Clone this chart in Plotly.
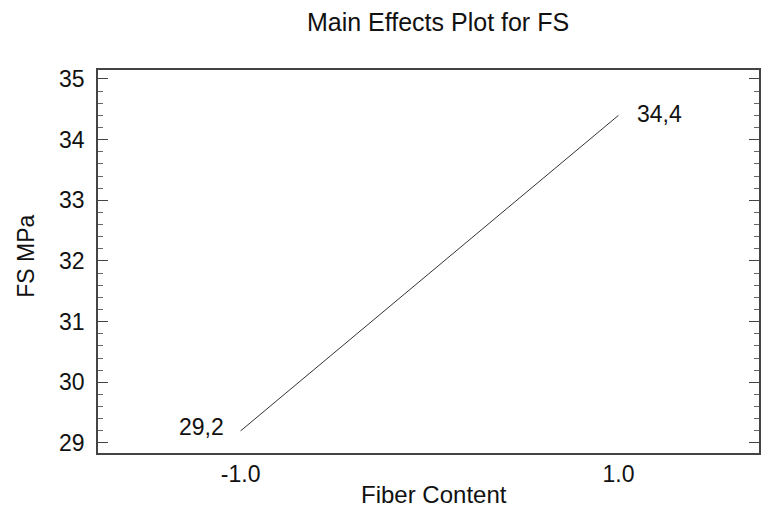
import plotly.graph_objects as go

levels = [-1.0, 1.0]
fs_means = [29.2, 34.4]
point_labels = ["29,2", "34,4"]
y_ticks = [29, 30, 31, 32, 33, 34, 35]
x_ticks = [-1.0, 1.0]
x_tick_text = ["-1.0", "1.0"]

font = "Liberation Sans, Arial, sans-serif"
fs = 23
ink = "#111111"

fig = go.Figure()
fig.add_trace(go.Scatter(x=levels, y=fs_means, mode="lines",
                         line=dict(color="#333333", width=1), showlegend=False,
                         hoverinfo="skip"))

fig.add_annotation(x=levels[0], y=fs_means[0], text=point_labels[0], showarrow=False,
                   xanchor="right", yanchor="middle", xshift=-15, yshift=4,
                   font=dict(family=font, size=fs, color=ink))
fig.add_annotation(x=levels[1], y=fs_means[1], text=point_labels[1], showarrow=False,
                   xanchor="left", yanchor="middle", xshift=17, yshift=1,
                   font=dict(family=font, size=fs, color=ink))

# axis titles as annotations (the x title sits close to the tick labels)
fig.add_annotation(xref="paper", yref="paper", x=0.508, y=-0.1084,
                   text="Fiber Content", showarrow=False,
                   xanchor="center", yanchor="middle",
                   font=dict(family=font, size=24, color=ink))
fig.add_annotation(xref="paper", yref="paper", x=-0.110, y=0.513,
                   text="FS MPa", showarrow=False, textangle=-90,
                   xanchor="center", yanchor="middle",
                   font=dict(family=font, size=23, color=ink))

fig.update_layout(
    width=761, height=512,
    margin=dict(l=98, r=0, t=70, b=59),
    paper_bgcolor="white", plot_bgcolor="white",
    title=dict(text="Main Effects Plot for FS", x=0.5756, xanchor="center",
               xref="container", y=0.957, yref="container", yanchor="middle",
               font=dict(family=font, size=25, color=ink)),
    font=dict(family=font, color=ink),
)
fig.update_xaxes(range=[-1.755, 1.744], tickvals=x_ticks, ticktext=x_tick_text,
                 showgrid=False, zeroline=False, showline=True, linecolor="#444444",
                 linewidth=1.5, mirror=True, ticks="",
                 tickfont=dict(size=fs), ticklabelstandoff=0)
fig.update_yaxes(range=[28.835, 35.148], tickvals=y_ticks,
                 showgrid=False, zeroline=False, showline=True, linecolor="#444444",
                 linewidth=1.5, mirror="ticks", ticks="inside", ticklen=10,
                 tickcolor="#444444", tickwidth=1,
                 minor=dict(dtick=0.2, tick0=29, ticks="inside", ticklen=5,
                            tickcolor="#666666", showgrid=False),
                 tickfont=dict(size=fs), ticklabelstandoff=7)

fig.write_html("out.html", config={"displayModeBar": False},
               post_script="document.body.style.margin='0';document.body.style.overflow='hidden';")
